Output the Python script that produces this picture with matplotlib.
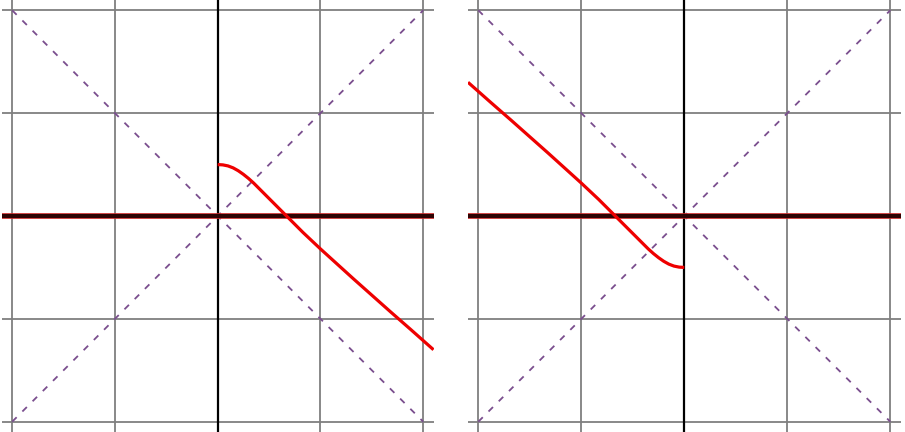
import matplotlib
matplotlib.use("Agg")
import matplotlib.pyplot as plt

# grid positions and limits
ticks = [-2, -1, 0, 1, 2]
lim = 2.1

# red curve
left_x = [0.0, 0.05, 0.1, 0.15, 0.2, 0.25, 0.3, 0.35, 0.41, 0.54, 0.67, 0.83, 1.0, 1.16, 1.32, 1.5, 1.68, 1.88, 2.1]
left_y = [0.5, 0.497, 0.487, 0.468, 0.44, 0.405, 0.365, 0.32, 0.26, 0.13, 0.0, -0.16, -0.32, -0.465, -0.61, -0.77, -0.93, -1.105, -1.3]

# red curve
right_x = [-2.1, -1.88, -1.68, -1.5, -1.32, -1.16, -1.0, -0.83, -0.67, -0.54, -0.41, -0.35, -0.3, -0.25, -0.2, -0.15, -0.1, -0.05, 0.0]
right_y = [1.3, 1.105, 0.93, 0.77, 0.61, 0.465, 0.32, 0.16, 0.0, -0.13, -0.26, -0.32, -0.365, -0.405, -0.44, -0.468, -0.487, -0.497, -0.5]

# diagonal guide lines y = x and y = -x
diag_x = [-2, 2]
diag_up = [-2, 2]
diag_down = [2, -2]


def panel(ax, cx, cy):
    ax.set_xlim(-lim, lim)
    ax.set_ylim(-lim, lim)
    for s in ax.spines.values():
        s.set_visible(False)
    ax.set_xticks([])
    ax.set_yticks([])
    for t in ticks:
        if t != 0:
            ax.axvline(t, color="#7f7f7f", lw=1.3, zorder=1)
        ax.axhline(t, color="#7f7f7f", lw=1.3, zorder=1)
    ax.plot(diag_x, diag_up, color="#7a4e8e", lw=1.3, ls=(0, (3.5, 4.5)), zorder=2)
    ax.plot(diag_x, diag_down, color="#7a4e8e", lw=1.3, ls=(0, (3.5, 4.5)), zorder=2)
    ax.axvline(0, color="black", lw=1.6, zorder=3)
    ax.axhline(0, color="#ff3030", lw=4.0, zorder=3)
    ax.axhline(0, color="#2e0404", lw=3.2, zorder=4)
    ax.plot(cx, cy, color="#ee0000", lw=2.3, zorder=5,
            solid_capstyle="butt", solid_joinstyle="round")


fig = plt.figure(figsize=(9.05, 4.32), dpi=100)
ax1 = fig.add_axes([1.9 / 905, 0, 431.6 / 905, 1])
ax2 = fig.add_axes([468 / 905, 0, 432.6 / 905, 1])
panel(ax1, left_x, left_y)
panel(ax2, right_x, right_y)

fig.savefig("out.png", dpi=100)
